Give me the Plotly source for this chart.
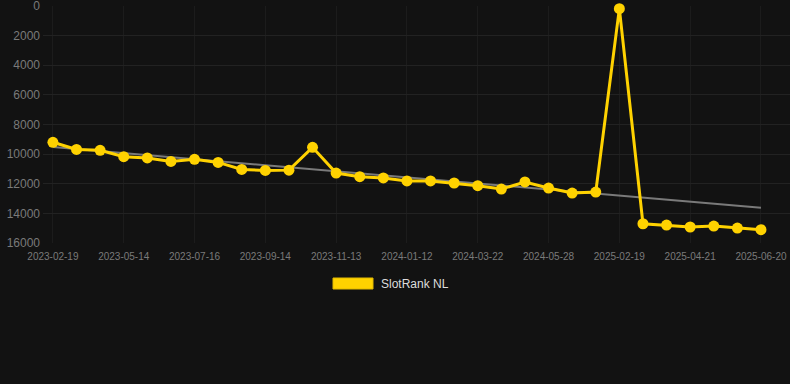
import plotly.graph_objects as go

dates = [
    "2023-02-19", "2023-03-21", "2023-04-14", "2023-05-14", "2023-06-02", "2023-06-24",
    "2023-07-16", "2023-08-05", "2023-08-25", "2023-09-14", "2023-10-04", "2023-10-24",
    "2023-11-13", "2023-12-03", "2023-12-23", "2024-01-12", "2024-02-04", "2024-02-27",
    "2024-03-22", "2024-04-13", "2024-05-06", "2024-05-28", "2024-06-28", "2024-08-15",
    "2025-02-19", "2025-03-11", "2025-04-01", "2025-04-21", "2025-05-11", "2025-05-31",
    "2025-06-20",
]
ranks = [
    9200, 9680, 9745, 10170, 10260, 10490, 10350, 10560, 11030, 11100, 11080,
    9540, 11280, 11520, 11610, 11810, 11810, 11950, 12130, 12360, 11880, 12290,
    12630, 12560, 180, 14700, 14790, 14920, 14860, 14990, 15100,
]
trend_dates = [dates[0], dates[-1]]
trend_values = [9520, 13620]
tick_labels = dates[::3]
y_ticks = [0, 2000, 4000, 6000, 8000, 10000, 12000, 14000, 16000]
series_name = "SlotRank NL"

GOLD = "#FFD200"
BG = "#121212"
W, H = 790, 384
L, R, T, B = 43, 0, 6, 141
pw, ph = W - L - R, H - T - B

def px_x(x):
    return (x - L) / pw

def px_y(y):
    return (H - B - y) / ph

fig = go.Figure()
fig.add_trace(go.Scatter(
    x=trend_dates, y=trend_values, mode="lines",
    line=dict(color="#7a7a7a", width=2), showlegend=False, hoverinfo="skip",
))
fig.add_trace(go.Scatter(
    x=dates, y=ranks, mode="lines+markers", name=series_name,
    line=dict(color=GOLD, width=3),
    marker=dict(color=GOLD, size=11),
    showlegend=False, cliponaxis=False,
))

fig.add_shape(type="rect", xref="paper", yref="paper",
              x0=px_x(333), x1=px_x(373), y0=px_y(289), y1=px_y(278),
              fillcolor=GOLD, line=dict(color="#e0b800", width=1))
fig.add_annotation(xref="paper", yref="paper", x=px_x(379), y=px_y(283.5),
                   text=series_name, showarrow=False, xanchor="left", yanchor="middle",
                   font=dict(size=12, color="#dddddd", family="Liberation Sans, Arial, sans-serif"))

fig.update_layout(
    width=W, height=H,
    margin=dict(l=L, r=R, t=T, b=B, pad=0),
    paper_bgcolor=BG, plot_bgcolor=BG,
    font=dict(family="Liberation Sans, Arial, sans-serif", color="#7a7a7a"),
    showlegend=False,
    xaxis=dict(
        type="category", categoryorder="array", categoryarray=dates,
        range=[-0.42, 31.23],
        tickmode="array", tickvals=tick_labels, ticktext=tick_labels,
        tickfont=dict(size=10, color="#7a7a7a"),
        showgrid=True, gridcolor="#1c1c1c", gridwidth=1,
        zeroline=False, showline=False,
        ticks="", ticklabelstandoff=6,
    ),
    yaxis=dict(
        range=[16000, -1], tickmode="array", tickvals=y_ticks,
        ticktext=[str(v) for v in y_ticks],
        tickfont=dict(size=12, color="#7a7a7a"),
        showgrid=True, gridcolor="#222222", gridwidth=1,
        zeroline=False, showline=False, ticks="", ticklabelstandoff=2,
        ticklabeloverflow="allow",
    ),
)

fig.write_html(
    "out.html",
    config={"displayModeBar": False},
    post_script="document.body.style.margin='0';document.body.style.background='#121212';",
)
